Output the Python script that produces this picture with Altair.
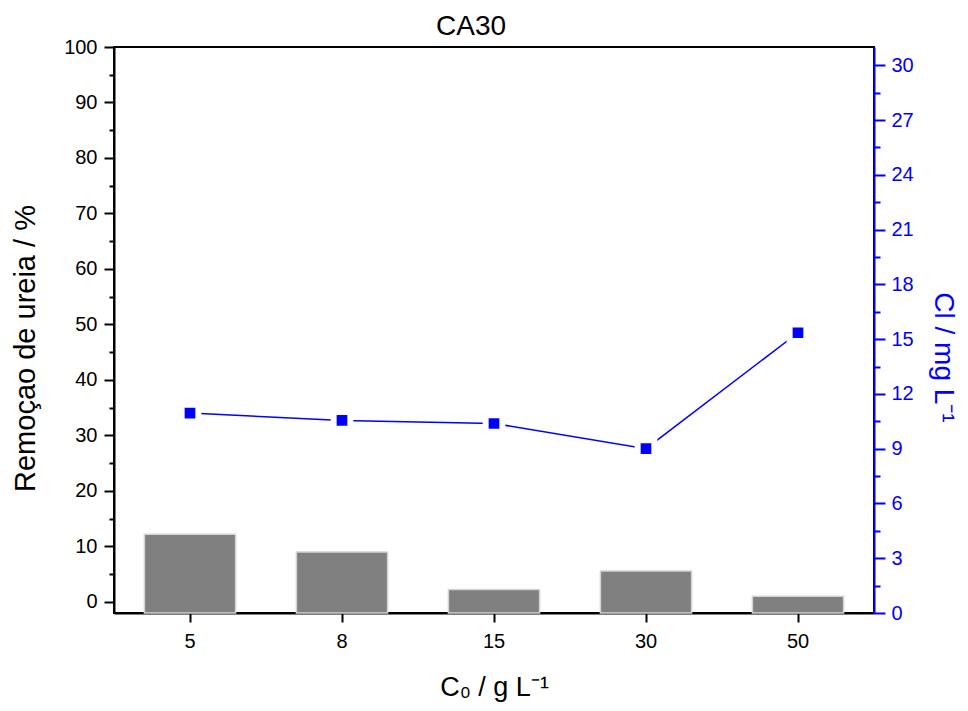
import altair as alt
import pandas as pd

categories = ["5", "8", "15", "30", "50"]
remocao = [12.2, 9.0, 2.25, 5.55, 1.0]
cl = [10.95, 10.55, 10.38, 9.0, 15.35]

left_ticks = [i * 5 for i in range(21)]
right_ticks = [i * 1.5 for i in range(21)]

df = pd.DataFrame({"C0": categories, "rem": remocao, "cl": cl})

FONT = "Liberation Sans"
BLUE = "#0000FF"

x_enc = alt.X(
    "C0:N",
    sort=categories,
    scale=alt.Scale(paddingInner=0.4, paddingOuter=0.2),
    axis=alt.Axis(
        title="C₀ / g L⁻¹",
        labelAngle=0,
        labelFontSize=20,
        labelFont=FONT,
        labelColor="black",
        titleFont=FONT,
        titleFontSize=27,
        titleFontWeight="normal",
        titleColor="black",
        titlePadding=23,
        labelPadding=9,
        tickSize=9,
        tickWidth=2,
        tickColor="black",
        domainColor="black",
        domainWidth=2,
        grid=False,
    ),
)

bars = alt.Chart(df).mark_bar(
    color="#808080", stroke="#d4d4d4", strokeWidth=1.5
).encode(
    x=x_enc,
    y=alt.Y(
        "rem:Q",
        scale=alt.Scale(domain=[-2, 100], nice=False, zero=False),
        axis=alt.Axis(
            title="Remoçao de ureia / %",
            values=left_ticks,
            labelExpr="datum.value % 10 === 0 ? datum.label : ''",
            tickSize={"condition": {"test": "datum.value % 10 === 0", "value": 10}, "value": 5},
            tickWidth=2,
            tickColor="black",
            domainColor="black",
            domainWidth=2,
            labelFontSize=20,
            labelFont=FONT,
            labelColor="black",
            labelPadding=7,
            titleFont=FONT,
            titleFontSize=29,
            titleFontWeight="normal",
            titleColor="black",
            titlePadding=23,
            titleY=301,
            grid=False,
        ),
    ),
    y2=alt.datum(-2),
)

y_right = alt.Y(
    "cl:Q",
    scale=alt.Scale(domain=[0, 31], nice=False),
    axis=alt.Axis(
        orient="right",
        title="Cl / mg L⁻¹",
        values=right_ticks,
        labelExpr="datum.value % 3 === 0 ? datum.label : ''",
        tickSize={"condition": {"test": "datum.value % 3 === 0", "value": 11}, "value": 6},
        tickWidth=2,
        tickColor=BLUE,
        domainColor=BLUE,
        domainWidth=2,
        labelFontSize=20,
        labelFont=FONT,
        labelColor=BLUE,
        labelPadding=6,
        titleFont=FONT,
        titleFontSize=28,
        titleFontWeight="normal",
        titleColor=BLUE,
        titlePadding=15,
        titleY=310,
        grid=False,
    ),
)

line = alt.Chart(df).mark_line(color=BLUE, strokeWidth=1.5).encode(
    x=alt.X("C0:N", sort=categories), y=y_right
)
points = alt.Chart(df).mark_point(
    shape="square", filled=True, fill=BLUE, size=279, stroke="white", strokeWidth=6, opacity=1
).encode(x=alt.X("C0:N", sort=categories), y=y_right)

right = alt.layer(line, points)

chart = (
    alt.layer(bars, right)
    .resolve_scale(y="independent")
    .properties(
        width=760,
        height=566,
        title=alt.TitleParams(
            "CA30", font=FONT, fontSize=28, fontWeight="normal", color="black", dx=-23, offset=-4
        ),
        autosize=alt.AutoSizeParams(type="none"),
        padding={"left": 114, "top": 47, "right": 94, "bottom": 98},
        background="white",
    )
    .configure_view(stroke="black", strokeWidth=2)
)

chart.save("out.html", embed_options={"renderer": "svg", "actions": False})
